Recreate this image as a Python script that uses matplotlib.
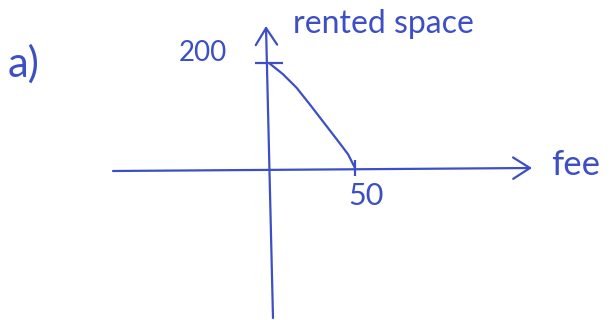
import matplotlib.pyplot as plt

# demand sketch: rented space against fee
fee = [0, 8, 16, 24, 32, 40, 46, 50]
space = [200, 179, 153, 120, 86, 52, 26, 0]

ink = '#3c4fc4'
plt.rcParams['font.family'] = ['Lato', 'DejaVu Sans']

W, H = 611, 320
fig = plt.figure(figsize=(W / 100, H / 100), dpi=100)
ax = fig.add_axes([0, 0, 1, 1])

# pixel <-> data scale: fee 0..50 over 86 px, space 0..200 over 105 px
x0, y0 = 269, 168
sx, sy = 86 / 50, 105 / 200
ax.set_xlim(-x0 / sx, (W - x0) / sx)
ax.set_ylim(-(H - y0) / sy, y0 / sy)
ax.axis('off')

def px(x, y):
    return (x / W, 1 - y / H)

arrow = dict(arrowstyle='->,head_length=0.55,head_width=0.35', color=ink,
             lw=1.6, mutation_scale=22, shrinkA=0, shrinkB=0)
# axes drawn by hand: fee to the right, rented space upwards
ax.annotate('', xy=px(532, 168), xytext=px(113, 171),
            xycoords='axes fraction', textcoords='axes fraction',
            arrowprops=arrow)
ax.annotate('', xy=px(266, 26), xytext=px(273, 318),
            xycoords='axes fraction', textcoords='axes fraction',
            arrowprops=arrow)

ax.plot(fee, space, color=ink, lw=1.6, solid_capstyle='round',
        solid_joinstyle='round')
ax.plot([0], [space[0]], marker='_', ms=20, mew=1.6, color=ink)
ax.plot([fee[-1]], [0], marker='|', ms=12, mew=1.6, color=ink)

ax.annotate(str(space[0]), (0, space[0]), xytext=(-66, 10),
            textcoords='offset pixels', ha='center', va='center',
            color=ink, fontsize=20)
ax.annotate(str(fee[-1]), (fee[-1], 0), xytext=(11, -28),
            textcoords='offset pixels', ha='center', va='center',
            color=ink, fontsize=22)

fig.text(*px(293, 24), 'rented space', color=ink, fontsize=23,
         ha='left', va='center')
fig.text(*px(551, 165), 'fee', color=ink, fontsize=25,
         ha='left', va='center')
fig.text(*px(8, 64), 'a)', color=ink, fontsize=30,
         ha='left', va='center')

fig.savefig('out.png', dpi=100)
